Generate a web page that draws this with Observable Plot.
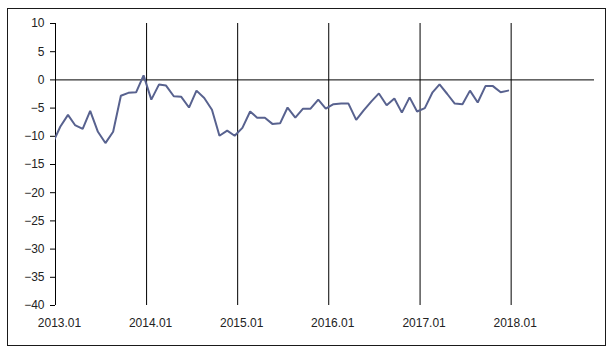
<!DOCTYPE html>
<html>
<head>
<meta charset="utf-8">
<script src="https://cdn.jsdelivr.net/npm/d3@7"></script>
<script src="https://cdn.jsdelivr.net/npm/@observablehq/plot@0.6"></script>
<style>
  html, body { margin: 0; padding: 0; background: #fff; }
  #wrap { position: relative; width: 613px; height: 358px; }
  #border { position: absolute; left: 7px; top: 8px; width: 597px; height: 336px; border: 1px solid #1a1a1a; }
  #chart { position: absolute; left: 0; top: 0; }
</style>
</head>
<body>
<div id="wrap"><div id="border"></div><div id="chart"></div></div>
<script>
// Observation months (each observation dated around the 20th of the month)
const months = [
  "2012-12",
  "2013-01","2013-02","2013-03","2013-04","2013-05","2013-06","2013-07","2013-08","2013-09","2013-10","2013-11","2013-12",
  "2014-01","2014-02","2014-03","2014-04","2014-05","2014-06","2014-07","2014-08","2014-09","2014-10","2014-11","2014-12",
  "2015-01","2015-02","2015-03","2015-04","2015-05","2015-06","2015-07","2015-08","2015-09","2015-10","2015-11","2015-12",
  "2016-01","2016-02","2016-03","2016-04","2016-05","2016-06","2016-07","2016-08","2016-09","2016-10","2016-11","2016-12",
  "2017-01","2017-02","2017-03","2017-04","2017-05","2017-06","2017-07","2017-08","2017-09","2017-10","2017-11","2017-12"
];
const values = [
  -11.3,
  -8.3, -6.2, -8.0, -8.7, -5.5, -9.2, -11.2, -9.2, -2.8, -2.3, -2.2, 0.8,
  -3.5, -0.8, -1.0, -2.9, -3.0, -4.9, -1.9, -3.2, -5.3, -9.9, -9.0, -9.9,
  -8.5, -5.6, -6.7, -6.7, -7.8, -7.7, -4.9, -6.7, -5.1, -5.1, -3.5, -5.1,
  -4.3, -4.2, -4.2, -7.1, -5.4, -3.8, -2.4, -4.5, -3.3, -5.8, -3.1, -5.6,
  -5.0, -2.2, -0.8, -2.5, -4.2, -4.3, -1.9, -4.0, -1.1, -1.1, -2.2, -1.9
];
const xTickLabels = ["2013.01", "2014.01", "2015.01", "2016.01", "2017.01", "2018.01"];
const yTicks = [10, 5, 0, -5, -10, -15, -20, -25, -30, -35, -40];
const xDomainLabels = ["2013.01", "2018.12"];

const parseLabel = s => new Date(Date.UTC(+s.slice(0, 4), +s.slice(5, 7) - 1, 1));
const data = months.map((m, i) => ({date: new Date(m + "-20"), value: values[i]}));
const xTicks = xTickLabels.map(parseLabel);
const fmt = d3.utcFormat("%Y.%m");

const chart = Plot.plot({
  width: 613,
  height: 358,
  marginLeft: 55,
  marginRight: 19,
  marginTop: 23,
  marginBottom: 53,
  style: {fontFamily: "'Liberation Sans', Arial, sans-serif", fontSize: "12px", color: "#222", background: "transparent"},
  x: {type: "utc", domain: xDomainLabels.map(parseLabel), label: null},
  y: {domain: [-40, 10], label: null},
  marks: [
    Plot.ruleX(xTicks, {y1: 10, y2: -40, stroke: "#000", strokeWidth: 1}),
    Plot.ruleY([0], {stroke: "#000", strokeWidth: 1}),
    Plot.axisY(yTicks, {tickSize: 5, tickPadding: 6, stroke: "#000", fill: "#222", label: null}),
    Plot.axisX(xTicks, {tickSize: 0, tickPadding: 13, dx: 4, tickFormat: fmt, fill: "#222", label: null}),
    Plot.line(data, {x: "date", y: "value", stroke: "#58628F", strokeWidth: 2, clip: true, strokeLinejoin: "miter"})
  ]
});
document.getElementById("chart").appendChild(chart);
</script>
</body>
</html>
